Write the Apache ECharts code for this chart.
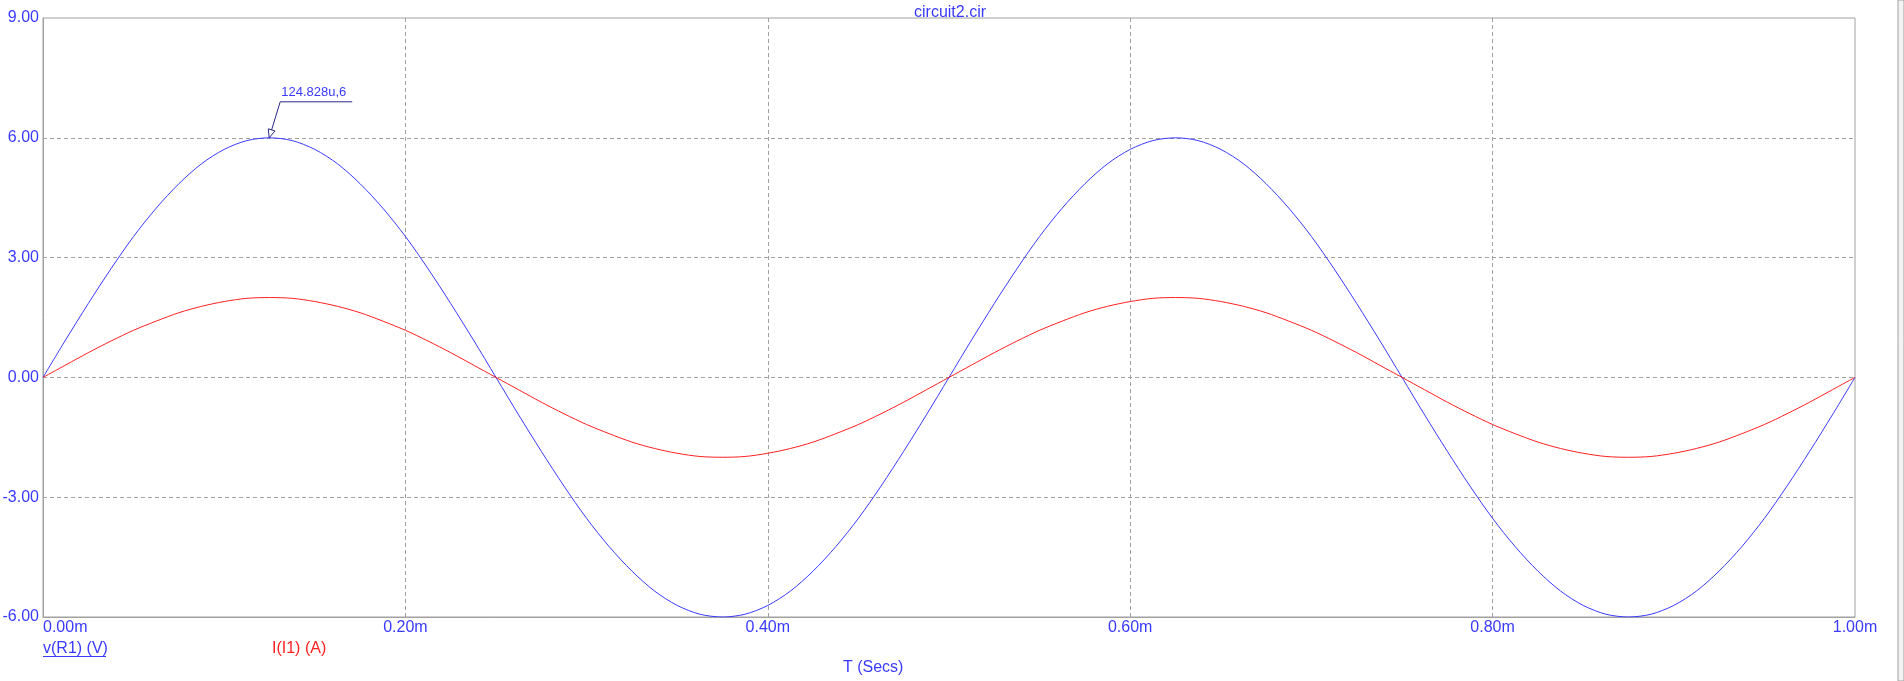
<!DOCTYPE html>
<html>
<head>
<meta charset="utf-8">
<script src="https://cdn.jsdelivr.net/npm/echarts@6/dist/echarts.min.js"></script>
<style>
  html, body { margin: 0; padding: 0; background: #fff; }
  #chart { width: 1904px; height: 681px; }
</style>
</head>
<body>
<div id="chart"></div>
<script>
// time in ms
const T_MS = [
  0, 0.0125, 0.025, 0.0375, 0.05, 0.0625, 0.075, 0.0875, 0.1, 0.1125,
  0.125, 0.1375, 0.15, 0.1625, 0.175, 0.1875, 0.2, 0.2125, 0.225, 0.2375,
  0.25, 0.2625, 0.275, 0.2875, 0.3, 0.3125, 0.325, 0.3375, 0.35, 0.3625,
  0.375, 0.3875, 0.4, 0.4125, 0.425, 0.4375, 0.45, 0.4625, 0.475, 0.4875,
  0.5, 0.5125, 0.525, 0.5375, 0.55, 0.5625, 0.575, 0.5875, 0.6, 0.6125,
  0.625, 0.6375, 0.65, 0.6625, 0.675, 0.6875, 0.7, 0.7125, 0.725, 0.7375,
  0.75, 0.7625, 0.775, 0.7875, 0.8, 0.8125, 0.825, 0.8375, 0.85, 0.8625,
  0.875, 0.8875, 0.9, 0.9125, 0.925, 0.9375, 0.95, 0.9625, 0.975, 0.9875,
  1.0
]

// v(R1) (V)
const V_R1 = [
  0, 0.94, 1.85, 2.72, 3.53, 4.24, 4.85, 5.35, 5.71, 5.93,
  6.00, 5.93, 5.71, 5.35, 4.85, 4.24, 3.53, 2.72, 1.85, 0.94,
  0, -0.94, -1.85, -2.72, -3.53, -4.24, -4.85, -5.35, -5.71, -5.93,
  -6.00, -5.93, -5.71, -5.35, -4.85, -4.24, -3.53, -2.72, -1.85, -0.94,
  0, 0.94, 1.85, 2.72, 3.53, 4.24, 4.85, 5.35, 5.71, 5.93,
  6.00, 5.93, 5.71, 5.35, 4.85, 4.24, 3.53, 2.72, 1.85, 0.94,
  0, -0.94, -1.85, -2.72, -3.53, -4.24, -4.85, -5.35, -5.71, -5.93,
  -6.00, -5.93, -5.71, -5.35, -4.85, -4.24, -3.53, -2.72, -1.85, -0.94,
  0
]

// I(I1) (A)
const I_I1 = [
  0, 0.31, 0.62, 0.91, 1.18, 1.41, 1.62, 1.78, 1.90, 1.98,
  2.00, 1.98, 1.90, 1.78, 1.62, 1.41, 1.18, 0.91, 0.62, 0.31,
  0, -0.31, -0.62, -0.91, -1.18, -1.41, -1.62, -1.78, -1.90, -1.98,
  -2.00, -1.98, -1.90, -1.78, -1.62, -1.41, -1.18, -0.91, -0.62, -0.31,
  0, 0.31, 0.62, 0.91, 1.18, 1.41, 1.62, 1.78, 1.90, 1.98,
  2.00, 1.98, 1.90, 1.78, 1.62, 1.41, 1.18, 0.91, 0.62, 0.31,
  0, -0.31, -0.62, -0.91, -1.18, -1.41, -1.62, -1.78, -1.90, -1.98,
  -2.00, -1.98, -1.90, -1.78, -1.62, -1.41, -1.18, -0.91, -0.62, -0.31,
  0
]

const X_TICKS = { min: 0, max: 1, step: 0.2 }
const Y_TICKS = { min: -6, max: 9, step: 3 }

// cursor tag at the first peak
const CURSOR = { t: 0.124828, v: 6, label: '124.828u,6' }

const BLUE = '#3a3aff'
const RED = '#ff2020'
const FONT = 'Arial, "Liberation Sans", sans-serif'

const pair = (ys) => T_MS.map((t, i) => [t, ys[i]])

function buildOption() {
  const gridLine = {
    show: true, showMinLine: false, showMaxLine: false,
    lineStyle: { color: '#a0a0a0', type: [4, 3], width: 1 },
  }
  const axisLine = { show: true, onZero: false, lineStyle: { color: '#a0a0a0', width: 1 } }
  return {
    animation: false,
    backgroundColor: '#fff',
    title: {
      text: 'circuit2.cir',
      left: 909,
      top: 0,
      textStyle: { color: BLUE, fontSize: 16, fontWeight: 'normal', fontFamily: FONT },
    },
    grid: {
      left: 43, right: 49, top: 18, bottom: 64,
      show: true, borderColor: '#a0a0a0', borderWidth: 1,
      outerBoundsMode: 'none',
    },
    xAxis: {
      type: 'value',
      min: X_TICKS.min, max: X_TICKS.max, interval: X_TICKS.step,
      axisLine, axisTick: { show: false },
      splitLine: gridLine,
      axisLabel: {
        color: BLUE, fontSize: 16, fontFamily: FONT, margin: 3,
        alignMinLabel: 'left',
        formatter: (v) => v.toFixed(2) + 'm',
      },
    },
    yAxis: {
      type: 'value',
      min: Y_TICKS.min, max: Y_TICKS.max, interval: Y_TICKS.step,
      axisLine, axisTick: { show: false },
      splitLine: gridLine,
      axisLabel: {
        color: BLUE, fontSize: 16, fontFamily: FONT, margin: 4,
        formatter: (v) => v.toFixed(2),
      },
    },
    series: [
      {
        name: 'v(R1) (V)', type: 'line', data: pair(V_R1),
        showSymbol: false, smooth: 0.3,
        lineStyle: { color: BLUE, width: 1 },
      },
      {
        name: 'I(I1) (A)', type: 'line', data: pair(I_I1),
        showSymbol: false, smooth: 0.3,
        lineStyle: { color: RED, width: 1 },
      },
    ],
  }
}

const chart = echarts.init(document.getElementById('chart'))
chart.setOption(buildOption())

// labels under the plot + cursor tag, placed from the axis scales
const [x0] = chart.convertToPixel({ gridIndex: 0 }, [0, 0])
const [px, py] = chart.convertToPixel({ gridIndex: 0 }, [CURSOR.t, CURSOR.v])
const elbow = [px + 11, py - 36]
const ang = Math.atan2(py - elbow[1], px - elbow[0])
const head = (r, a) => [px - r * Math.cos(ang + a), py - r * Math.sin(ang + a)]

chart.setOption({
  graphic: [
    { type: 'rect', shape: { x: 1898, y: 0, width: 6, height: 681 },
      style: { fill: '#f3f3f3', stroke: '#a0a0a0', lineWidth: 1 } },
    { type: 'text', x: x0, y: 641,
      style: { text: 'v(R1) (V)', fill: BLUE, font: '16px ' + FONT } },
    { type: 'line', shape: { x1: x0, y1: 656.5, x2: x0 + 63, y2: 656.5 },
      style: { stroke: BLUE, lineWidth: 1 } },
    { type: 'text', x: 272, y: 641,
      style: { text: 'I(I1) (A)', fill: RED, font: '16px ' + FONT } },
    { type: 'text', x: 843, y: 660,
      style: { text: 'T (Secs)', fill: BLUE, font: '16px ' + FONT } },
    { type: 'polyline',
      shape: { points: [[px, py], elbow, [elbow[0] + 72, elbow[1]]] },
      style: { stroke: '#2a2a8a', lineWidth: 1, fill: null } },
    { type: 'polygon',
      shape: { points: [[px, py], head(9, 0.4), head(9, -0.4)] },
      style: { stroke: '#2a2a8a', fill: '#fff', lineWidth: 1 } },
    { type: 'text', x: elbow[0] + 1, y: elbow[1] - 16,
      style: { text: CURSOR.label, fill: BLUE, font: '13px ' + FONT } },
  ],
})
</script>
</body>
</html>
